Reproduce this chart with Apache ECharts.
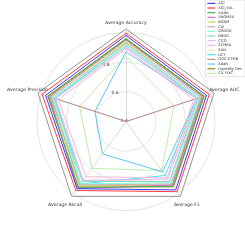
<!DOCTYPE html>
<html><head><meta charset="utf-8">
<script src="https://cdn.jsdelivr.net/npm/echarts@6/dist/echarts.min.js"></script>
<style>html,body{margin:0;padding:0;background:#fff}#c{width:245px;height:245px}</style>
</head><body><div id="c"></div>
<script>
// Axes (counter-clockwise from top, as ECharts lays them out)
const axisNames = ['Average Accuracy','Average Precision','Average Recall','Average F1','Average AUC'];
const tickLabels = ['0.4','0.6','0.8'];
const seriesNames = ['AGI','AGI_EAL','AANA','ANOMEA','BGNM','CAI','GRAOD','NBDG','CGO','SCMBA','SAN','UCT','GGC DTMB','AdaN','HyperBy Dev','CIL FIXC'];
const seriesColors = ['#3a3aff','#ff3b3b','#4caf50','#d36fd3','#d4d44a','#c8b4ae','#7fffd4','#80d4d4','#dab8f0','#f5b5d5','#ffdcaa','#40e8f0','#bc8f8f','#5cc4ee','#8f8f10','#b8f0a8'];
// values: Accuracy, Precision, Recall, F1, AUC
const v01 = [0.980,0.970,0.960,0.970,0.970];
const v02 = [0.995,0.995,0.975,0.985,0.990];
const v03 = [0.955,0.950,0.950,0.940,0.950];
const v04 = [0.950,0.940,0.960,0.930,0.940];
const v05 = [0.940,0.945,0.940,0.935,0.945];
const v06 = [0.930,0.930,0.930,0.920,0.930];
const v07 = [0.920,0.920,0.920,0.910,0.920];
const v08 = [0.910,0.910,0.900,0.900,0.910];
const v09 = [0.900,0.900,0.890,0.880,0.900];
const v10 = [0.890,0.880,0.860,0.870,0.880];
const v11 = [0.930,0.920,0.890,0.900,0.900];
const v12 = [0.930,0.900,0.920,0.850,0.900];
const v13 = [0.400,0.930,0.930,0.930,0.930];
const v14 = [0.870,0.620,0.670,0.820,0.900];
const v15 = [0.960,0.955,0.945,0.945,0.955];
const v16 = [0.840,0.730,0.790,0.810,0.740];
const values = [v01,v02,v03,v04,v05,v06,v07,v08,v09,v10,v11,v12,v13,v14,v15,v16];

const vMin = 0.4, vMax = 1.0, frameMax = 1.024;
const cx = 126, cy = 121.5, rData = 89;
const rFrame = rData * (frameMax - vMin) / (vMax - vMin);
const nameGaps = [6, 11, 11, 11, 11];

const chart = echarts.init(document.getElementById('c'), null, {renderer:'canvas'});
chart.setOption({
  animation:false,
  textStyle:{fontFamily:'DejaVu Sans'},
  legend:{
    orient:'vertical', right:0, top:0,
    data:seriesNames,
    icon:'rect', itemWidth:8, itemHeight:1.2, itemGap:0,
    padding:[1,3,1,2],
    borderColor:'#cccccc', borderWidth:0.6, borderRadius:1,
    backgroundColor:'#ffffff',
    textStyle:{fontSize:3.6, lineHeight:4.67, color:'#333', padding:[0,0,0,-2]}
  },
  radar:[
    {
      center:[cx,cy], radius:rData, startAngle:90, shape:'circle',
      splitNumber:3,
      indicator: axisNames.map(n=>({name:n, min:vMin, max:vMax})),
      axisName:{show:false},
      axisLine:{show:false},
      axisLabel:{show:false},
      splitLine:{lineStyle:{color:['#dddddd','#dddddd','#dddddd','rgba(0,0,0,0)'], width:0.8}},
      splitArea:{show:false}
    },
    {
      center:[cx,cy], radius:rFrame, startAngle:90, shape:'polygon',
      splitNumber:1,
      indicator: axisNames.map((n,i)=>({name:n, min:0, max:1, nameGap:nameGaps[i]})),
      axisName:{color:'#333', fontSize:4.6, align:'center', verticalAlign:'middle'},
      axisLine:{lineStyle:{color:'#d0d0d0', width:0.8}},
      splitLine:{lineStyle:{color:'#8a8a8a', width:0.9}},
      splitArea:{show:false}
    },
    {
      // tick-label carrier, rotated like matplotlib's rlabel position
      center:[cx,cy], radius:rData, startAngle:108, shape:'circle',
      splitNumber:3,
      indicator: axisNames.map((n,i)=>({name:'', min:vMin, max:vMax,
        axisLabel: i===0 ? {show:true, fontSize:4.5, color:'#444', margin:-2,
          formatter:(v)=> tickLabels.indexOf(v.toFixed(1))>=0 ? v.toFixed(1) : ''} : {show:false}})),
      axisName:{show:false},
      axisLine:{show:false},
      splitLine:{show:false},
      splitArea:{show:false}
    }
  ],
  series: seriesNames.map((name,i)=>({
    type:'radar', radarIndex:0, name:name, symbol:'none',
    lineStyle:{width:1, color:seriesColors[i]},
    itemStyle:{color:seriesColors[i]},
    z: 2 + (seriesNames.length - i),
    data:[{value:values[i], name:name}]
  }))
});
</script></body></html>
